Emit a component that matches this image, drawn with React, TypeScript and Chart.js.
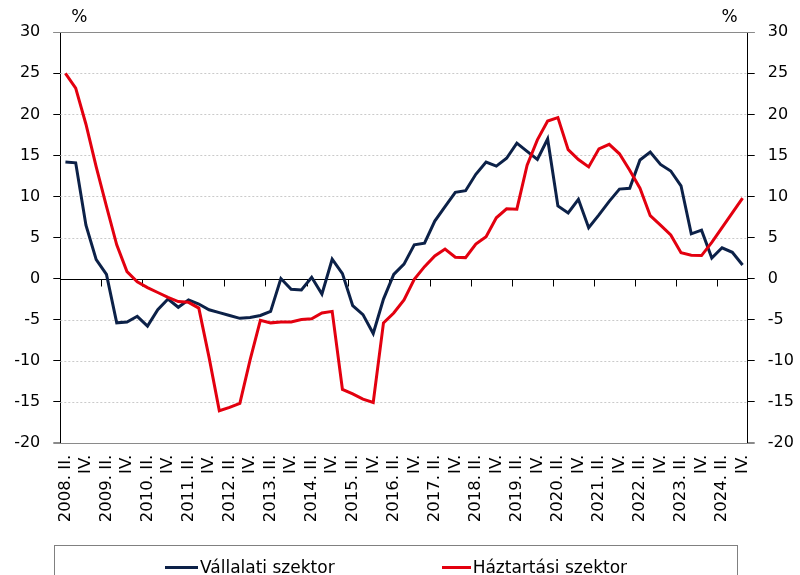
import React, { useEffect, useRef } from 'react';
import { Chart, registerables } from 'chart.js';

Chart.register(...registerables);

const categories: string[] = [
  '2008. II.', '2008. III.', '2008. IV.',
  '2009. I.', '2009. II.', '2009. III.', '2009. IV.',
  '2010. I.', '2010. II.', '2010. III.', '2010. IV.',
  '2011. I.', '2011. II.', '2011. III.', '2011. IV.',
  '2012. I.', '2012. II.', '2012. III.', '2012. IV.',
  '2013. I.', '2013. II.', '2013. III.', '2013. IV.',
  '2014. I.', '2014. II.', '2014. III.', '2014. IV.',
  '2015. I.', '2015. II.', '2015. III.', '2015. IV.',
  '2016. I.', '2016. II.', '2016. III.', '2016. IV.',
  '2017. I.', '2017. II.', '2017. III.', '2017. IV.',
  '2018. I.', '2018. II.', '2018. III.', '2018. IV.',
  '2019. I.', '2019. II.', '2019. III.', '2019. IV.',
  '2020. I.', '2020. II.', '2020. III.', '2020. IV.',
  '2021. I.', '2021. II.', '2021. III.', '2021. IV.',
  '2022. I.', '2022. II.', '2022. III.', '2022. IV.',
  '2023. I.', '2023. II.', '2023. III.', '2023. IV.',
  '2024. I.', '2024. II.', '2024. III.', '2024. IV.',
];

const seriesNames: string[] = ['Vállalati szektor', 'Háztartási szektor'];
const seriesColors: string[] = ['#0C2148', '#E3000F'];

const corporate: number[] = [
  14.2, 14.1, 6.5,
  2.3, 0.5, -5.4, -5.3,
  -4.6, -5.8, -3.8, -2.5,
  -3.5, -2.6, -3.1, -3.8,
  -4.15, -4.5, -4.85, -4.75,
  -4.5, -4.0, 0.0, -1.3,
  -1.4, 0.15, -1.9, 2.35,
  0.6, -3.3, -4.4, -6.7,
  -2.5, 0.5, 1.75, 4.1,
  4.3, 7.0, 8.75, 10.5,
  10.7, 12.7, 14.2, 13.7,
  14.65, 16.5, 15.5, 14.5,
  17.0, 8.85, 8.0, 9.65,
  6.2, 7.75, 9.4, 10.9,
  11.0, 14.45, 15.4, 13.9,
  13.1, 11.3, 5.45, 5.9,
  2.5, 3.75, 3.2, 1.65,
];

const household: number[] = [
  25.0, 23.2, 18.8,
  13.6, 8.8, 4.1, 0.85,
  -0.4, -1.1, -1.7, -2.3,
  -2.8, -2.9, -3.6, -9.6,
  -16.1, -15.7, -15.2, -9.9,
  -5.1, -5.4, -5.3, -5.3,
  -5.0, -4.9, -4.2, -4.0,
  -13.5, -14.05, -14.7, -15.1,
  -5.4, -4.2, -2.6, -0.1,
  1.45, 2.75, 3.6, 2.6,
  2.55, 4.2, 5.1, 7.4,
  8.5, 8.45, 13.8, 16.9,
  19.2, 19.6, 15.7, 14.5,
  13.6, 15.8, 16.35, 15.2,
  13.2, 11.0, 7.66, 6.5,
  5.3, 3.15, 2.85, 2.8,
  4.4, 6.2, 8.0, 9.8,
];

const yMin = -20;
const yMax = 30;
const yStep = 5;
const unitLabel = '%';

const FONT = '"DejaVu Sans", sans-serif';

const decorPlugin = {
  id: 'decor',
  beforeDatasetsDraw(chart: any) {
    const { ctx, chartArea: a, scales } = chart;
    const y = scales.y;
    const x = scales.x;
    ctx.save();
    ctx.lineWidth = 1;
    ctx.strokeStyle = '#cacaca';
    ctx.setLineDash([2, 2]);
    y.ticks.forEach((t: any) => {
      if (t.value === 0 || t.value === y.max || t.value === y.min) return;
      const py = Math.round(y.getPixelForValue(t.value)) + 0.5;
      ctx.beginPath();
      ctx.moveTo(a.left, py);
      ctx.lineTo(a.right, py);
      ctx.stroke();
    });
    ctx.setLineDash([]);
    ctx.strokeStyle = '#8a8a8a';
    [y.max, y.min].forEach((v: number) => {
      const py = Math.round(y.getPixelForValue(v)) + 0.5;
      ctx.beginPath();
      ctx.moveTo(a.left - 7, py);
      ctx.lineTo(a.right + 7, py);
      ctx.stroke();
    });
    const y0 = Math.round(y.getPixelForValue(0)) + 0.5;
    ctx.strokeStyle = '#000';
    ctx.beginPath();
    ctx.moveTo(a.left, y0);
    ctx.lineTo(a.right, y0);
    ctx.stroke();
    const step = x.getPixelForValue(1) - x.getPixelForValue(0);
    for (let i = 0; i < categories.length; i += 4) {
      const px = Math.round(x.getPixelForValue(i) - step / 2) + 0.5;
      ctx.beginPath();
      ctx.moveTo(px, y0);
      ctx.lineTo(px, y0 + 7);
      ctx.stroke();
    }
    ctx.restore();
  },
  afterDraw(chart: any) {
    const { ctx, chartArea: a } = chart;
    ctx.save();
    ctx.fillStyle = '#000';
    ctx.font = '17px ' + FONT;
    ctx.textAlign = 'center';
    ctx.textBaseline = 'alphabetic';
    ctx.fillText(unitLabel, a.left + 19, a.top - 10.5);
    ctx.fillText(unitLabel, a.right - 18, a.top - 10.5);
    ctx.restore();
  },
};

function yAxis(position: 'left' | 'right', width: number) {
  return {
    type: 'linear',
    position,
    min: yMin,
    max: yMax,
    ticks: {
      stepSize: yStep,
      color: '#000',
      padding: 13,
      font: { family: FONT, size: 16 },
    },
    grid: {
      drawOnChartArea: false,
      drawTicks: true,
      tickLength: 7,
      tickWidth: 1,
      tickColor: (c: any) =>
        c.tick && (c.tick.value === yMax || c.tick.value === yMin) ? '#8a8a8a' : '#000',
    },
    border: { display: true, color: '#000', width: 1 },
    afterFit(s: any) {
      s.width = width;
    },
  };
}

export default function App() {
  const ref = useRef<HTMLCanvasElement | null>(null);

  useEffect(() => {
    document.body.style.margin = '0';
    if (!ref.current) return;
    const datasets = [
      {
        label: seriesNames[1],
        data: household,
        borderColor: seriesColors[1],
        backgroundColor: seriesColors[1],
        borderWidth: 3,
        pointRadius: 0,
        tension: 0,
        fill: false,
        order: 0,
      },
      {
        label: seriesNames[0],
        data: corporate,
        borderColor: seriesColors[0],
        backgroundColor: seriesColors[0],
        borderWidth: 3,
        pointRadius: 0,
        tension: 0,
        fill: false,
        order: 1,
      },
    ];
    const chart = new Chart(ref.current, {
      type: 'line',
      data: { labels: categories, datasets },
      options: {
        responsive: false,
        animation: false,
        devicePixelRatio: 1,
        layout: { padding: { top: 32.3, bottom: 42.3, left: 0, right: 0 } },
        plugins: { legend: { display: false }, tooltip: { enabled: false } },
        scales: {
          x: {
            type: 'category',
            offset: true,
            grid: { display: false, drawTicks: false },
            border: { display: false },
            ticks: {
              autoSkip: false,
              minRotation: 90,
              maxRotation: 90,
              padding: 12,
              color: '#000',
              font: { family: FONT, size: 16.5 },
              callback(this: any, v: any) {
                const l: string = this.getLabelForValue(v);
                if (l.endsWith(' II.')) return l;
                if (l.endsWith(' IV.')) return 'IV.';
                return '';
              },
            },
            afterFit(s: any) {
              s.height = 90;
            },
          },
          y: yAxis('left', 60.3),
          y1: yAxis('right', 52.3),
        },
      } as any,
      plugins: [decorPlugin],
    });
    return () => chart.destroy();
  }, []);

  return (
    <div style={{ position: 'relative', width: 800, height: 575, overflow: 'hidden', background: '#fff' }}>
      <canvas ref={ref} width={800} height={575} style={{ display: 'block', width: 800, height: 575 }} />
      <div
        style={{
          position: 'absolute',
          left: 54,
          top: 545,
          width: 684,
          height: 60,
          boxSizing: 'border-box',
          border: '1px solid #808080',
          display: 'flex',
          justifyContent: 'center',
          alignItems: 'flex-start',
          paddingTop: 11,
          gap: 107,
          fontFamily: FONT,
          fontSize: 17,
          lineHeight: '20px',
          color: '#000',
        }}
      >
        {seriesNames.map((n, i) => (
          <div key={n} style={{ display: 'flex', alignItems: 'center' }}>
            <span style={{ display: 'inline-block', width: i === 0 ? 33 : 29, height: 3, background: seriesColors[i], marginRight: 2 }} />
            <span>{n}</span>
          </div>
        ))}
      </div>
    </div>
  );
}
